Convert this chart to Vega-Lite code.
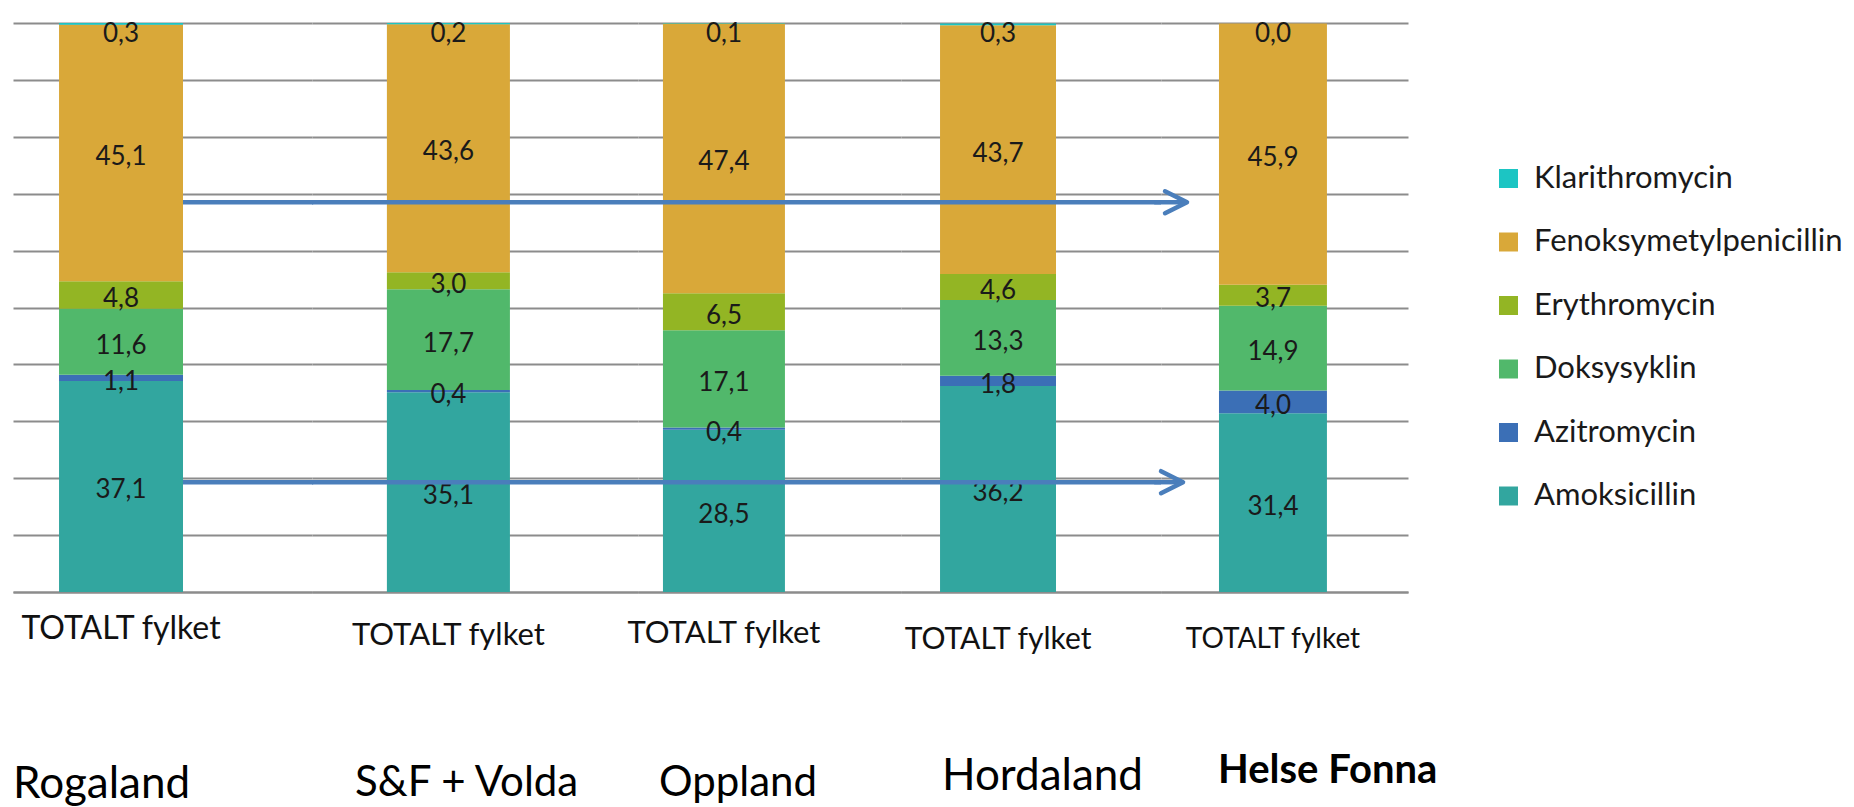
{
  "$schema": "https://vega.github.io/schema/vega-lite/v6.json",
  "padding": {"left": 13, "top": 21, "right": 0, "bottom": 0},
  "background": "#ffffff",
  "bounds": "flush",
  "spacing": 0,
  "config": {
    "locale": {"number": {"decimal": ",", "thousands": " ", "grouping": [3], "currency": ["", " kr"]}},
    "view": {"stroke": null},
    "font": "Lato",
    "axisX": {"ticks": false, "domain": true, "domainColor": "#8c8c8c", "domainWidth": 2, "labelFont": "Lato", "labelColor": "#111111", "labelAngle": 0, "grid": false, "labelLimit": 500},
    "axisY": {"grid": true, "gridColor": "#8c8c8c", "gridWidth": 2, "labels": false, "ticks": false, "domain": false}
  },
  "datasets": {
    "d": [
      {"region": "Rogaland", "group": "TOTALT fylket", "drug": "Amoksicillin", "value": 37.1},
      {"region": "Rogaland", "group": "TOTALT fylket", "drug": "Azitromycin", "value": 1.1},
      {"region": "Rogaland", "group": "TOTALT fylket", "drug": "Doksysyklin", "value": 11.6},
      {"region": "Rogaland", "group": "TOTALT fylket", "drug": "Erythromycin", "value": 4.8},
      {"region": "Rogaland", "group": "TOTALT fylket", "drug": "Fenoksymetylpenicillin", "value": 45.1},
      {"region": "Rogaland", "group": "TOTALT fylket", "drug": "Klarithromycin", "value": 0.3},
      {"region": "S&F + Volda", "group": "TOTALT fylket", "drug": "Amoksicillin", "value": 35.1},
      {"region": "S&F + Volda", "group": "TOTALT fylket", "drug": "Azitromycin", "value": 0.4},
      {"region": "S&F + Volda", "group": "TOTALT fylket", "drug": "Doksysyklin", "value": 17.7},
      {"region": "S&F + Volda", "group": "TOTALT fylket", "drug": "Erythromycin", "value": 3.0},
      {"region": "S&F + Volda", "group": "TOTALT fylket", "drug": "Fenoksymetylpenicillin", "value": 43.6},
      {"region": "S&F + Volda", "group": "TOTALT fylket", "drug": "Klarithromycin", "value": 0.2},
      {"region": "Oppland", "group": "TOTALT fylket", "drug": "Amoksicillin", "value": 28.5},
      {"region": "Oppland", "group": "TOTALT fylket", "drug": "Azitromycin", "value": 0.4},
      {"region": "Oppland", "group": "TOTALT fylket", "drug": "Doksysyklin", "value": 17.1},
      {"region": "Oppland", "group": "TOTALT fylket", "drug": "Erythromycin", "value": 6.5},
      {"region": "Oppland", "group": "TOTALT fylket", "drug": "Fenoksymetylpenicillin", "value": 47.4},
      {"region": "Oppland", "group": "TOTALT fylket", "drug": "Klarithromycin", "value": 0.1},
      {"region": "Hordaland", "group": "TOTALT fylket", "drug": "Amoksicillin", "value": 36.2},
      {"region": "Hordaland", "group": "TOTALT fylket", "drug": "Azitromycin", "value": 1.8},
      {"region": "Hordaland", "group": "TOTALT fylket", "drug": "Doksysyklin", "value": 13.3},
      {"region": "Hordaland", "group": "TOTALT fylket", "drug": "Erythromycin", "value": 4.6},
      {"region": "Hordaland", "group": "TOTALT fylket", "drug": "Fenoksymetylpenicillin", "value": 43.7},
      {"region": "Hordaland", "group": "TOTALT fylket", "drug": "Klarithromycin", "value": 0.3},
      {"region": "Helse Fonna", "group": "TOTALT fylket", "drug": "Amoksicillin", "value": 31.4},
      {"region": "Helse Fonna", "group": "TOTALT fylket", "drug": "Azitromycin", "value": 4.0},
      {"region": "Helse Fonna", "group": "TOTALT fylket", "drug": "Doksysyklin", "value": 14.9},
      {"region": "Helse Fonna", "group": "TOTALT fylket", "drug": "Erythromycin", "value": 3.7},
      {"region": "Helse Fonna", "group": "TOTALT fylket", "drug": "Fenoksymetylpenicillin", "value": 45.9},
      {"region": "Helse Fonna", "group": "TOTALT fylket", "drug": "Klarithromycin", "value": 0.0}
    ]
  },
  "hconcat": [
    {
      "width": 299, "height": 569,
      "data": {"name": "d"},
      "transform": [{"filter": "datum.region === 'Rogaland'"}],
      "title": {"text": "Rogaland", "orient": "bottom", "anchor": "start", "frame": "group", "offset": 119, "fontSize": 44, "fontWeight": "normal", "font": "Lato", "color": "#000000"},
      "layer": [
        {"mark": {"type": "bar"},
         "encoding": {
           "x": {"field": "group", "type": "nominal", "title": null, "scale": {"paddingInner": 0, "paddingOuter": 0.706, "align": 0.263}, "axis": {"labelFontSize": 32, "labelPadding": 21}},
           "y": {"field": "value", "type": "quantitative", "stack": "zero", "title": null, "scale": {"domain": [0, 100]}, "axis": {"values": [0,10,20,30,40,50,60,70,80,90,100]}},
           "color": {"field": "drug", "type": "nominal", "scale": {"domain": ["Klarithromycin","Fenoksymetylpenicillin","Erythromycin","Doksysyklin","Azitromycin","Amoksicillin"], "range": ["#1cc5c3","#d9a839","#93b524","#51b86b","#3b6fb6","#32a69f"]}, "legend": {"orient": "none", "legendX": 1480, "legendY": 140, "title": null, "symbolType": "square", "symbolSize": 361, "symbolStrokeWidth": 0, "symbolOpacity": 1, "labelFont": "Lato", "labelFontSize": 31, "labelColor": "#1a1a1a", "rowPadding": 31.5, "labelOffset": 10, "labelLimit": 500}},
           "order": {"field": "drug", "type": "nominal", "sort": "ascending"}
         }},
        {"transform": [{"filter": "datum.drug !== 'Klarithromycin'"}],
         "mark": {"type": "text", "font": "Lato", "fontSize": 26, "color": "#1a1a1a", "baseline": "middle", "dy": 4},
         "encoding": {
           "x": {"field": "group", "type": "nominal", "title": null},
           "y": {"field": "value", "type": "quantitative", "stack": "zero", "bandPosition": 0.5, "title": null},
           "text": {"field": "value", "type": "quantitative", "format": ".1f"},
           "order": {"field": "drug", "type": "nominal", "sort": "ascending"}
         }},
        {"transform": [{"filter": "datum.drug === 'Klarithromycin'"}],
         "mark": {"type": "text", "font": "Lato", "fontSize": 26, "color": "#1a1a1a", "baseline": "top", "dy": -2},
         "encoding": {
           "x": {"field": "group", "type": "nominal", "title": null},
           "y": {"datum": 100, "type": "quantitative", "title": null},
           "text": {"field": "value", "type": "quantitative", "format": ".1f"}
         }},
        {"data": {"values": [{}]},
         "mark": {"type": "rule", "color": "#4a7ebb", "strokeWidth": 4.5},
         "encoding": {
           "x": {"datum": "TOTALT fylket", "type": "nominal", "bandPosition": 1, "title": null},
           "x2": {"datum": "TOTALT fylket", "bandPosition": 2.05},
           "y": {"datum": 68.5, "type": "quantitative", "title": null}
         }},
        {"data": {"values": [{}]},
         "mark": {"type": "rule", "color": "#4a7ebb", "strokeWidth": 4.5},
         "encoding": {
           "x": {"datum": "TOTALT fylket", "type": "nominal", "bandPosition": 1, "title": null},
           "x2": {"datum": "TOTALT fylket", "bandPosition": 2.05},
           "y": {"datum": 19.3, "type": "quantitative", "title": null}
         }}
      ]
    },
    {
      "width": 326, "height": 569,
      "data": {"name": "d"},
      "transform": [{"filter": "datum.region === 'S&F + Volda'"}],
      "title": {"text": "S&F + Volda", "orient": "bottom", "anchor": "start", "frame": "group", "offset": 113, "dx": 43, "fontSize": 42, "fontWeight": "normal", "font": "Lato", "color": "#000000"},
      "layer": [
        {"mark": {"type": "bar"},
         "encoding": {
           "x": {"field": "group", "type": "nominal", "title": null, "scale": {"paddingInner": 0, "paddingOuter": 0.825, "align": 0.369}, "axis": {"labelFontSize": 31, "labelPadding": 28}},
           "y": {"field": "value", "type": "quantitative", "stack": "zero", "title": null, "scale": {"domain": [0, 100]}, "axis": {"values": [0,10,20,30,40,50,60,70,80,90,100]}},
           "color": {"field": "drug", "type": "nominal", "scale": {"domain": ["Klarithromycin","Fenoksymetylpenicillin","Erythromycin","Doksysyklin","Azitromycin","Amoksicillin"], "range": ["#1cc5c3","#d9a839","#93b524","#51b86b","#3b6fb6","#32a69f"]}, "legend": {"orient": "none", "legendX": 1480, "legendY": 140, "title": null, "symbolType": "square", "symbolSize": 361, "symbolStrokeWidth": 0, "symbolOpacity": 1, "labelFont": "Lato", "labelFontSize": 31, "labelColor": "#1a1a1a", "rowPadding": 31.5, "labelOffset": 10, "labelLimit": 500}},
           "order": {"field": "drug", "type": "nominal", "sort": "ascending"}
         }},
        {"transform": [{"filter": "datum.drug !== 'Klarithromycin'"}],
         "mark": {"type": "text", "font": "Lato", "fontSize": 26, "color": "#1a1a1a", "baseline": "middle", "dy": 4},
         "encoding": {
           "x": {"field": "group", "type": "nominal", "title": null},
           "y": {"field": "value", "type": "quantitative", "stack": "zero", "bandPosition": 0.5, "title": null},
           "text": {"field": "value", "type": "quantitative", "format": ".1f"},
           "order": {"field": "drug", "type": "nominal", "sort": "ascending"}
         }},
        {"transform": [{"filter": "datum.drug === 'Klarithromycin'"}],
         "mark": {"type": "text", "font": "Lato", "fontSize": 26, "color": "#1a1a1a", "baseline": "top", "dy": -2},
         "encoding": {
           "x": {"field": "group", "type": "nominal", "title": null},
           "y": {"datum": 100, "type": "quantitative", "title": null},
           "text": {"field": "value", "type": "quantitative", "format": ".1f"}
         }},
        {"data": {"values": [{}]},
         "mark": {"type": "rule", "color": "#4a7ebb", "strokeWidth": 4.5},
         "encoding": {"y": {"datum": 68.5, "type": "quantitative", "title": null}}},
        {"data": {"values": [{}]},
         "mark": {"type": "rule", "color": "#4a7ebb", "strokeWidth": 4.5},
         "encoding": {"y": {"datum": 19.3, "type": "quantitative", "title": null}}}
      ]
    },
    {
      "width": 263, "height": 569,
      "data": {"name": "d"},
      "transform": [{"filter": "datum.region === 'Oppland'"}],
      "title": {"text": "Oppland", "orient": "bottom", "anchor": "start", "frame": "group", "offset": 115, "dx": 21, "fontSize": 42, "fontWeight": "normal", "font": "Lato", "color": "#000000"},
      "layer": [
        {"mark": {"type": "bar"},
         "encoding": {
           "x": {"field": "group", "type": "nominal", "title": null, "scale": {"paddingInner": 0, "paddingOuter": 0.578, "align": 0.177}, "axis": {"labelFontSize": 31, "labelPadding": 26}},
           "y": {"field": "value", "type": "quantitative", "stack": "zero", "title": null, "scale": {"domain": [0, 100]}, "axis": {"values": [0,10,20,30,40,50,60,70,80,90,100]}},
           "color": {"field": "drug", "type": "nominal", "scale": {"domain": ["Klarithromycin","Fenoksymetylpenicillin","Erythromycin","Doksysyklin","Azitromycin","Amoksicillin"], "range": ["#1cc5c3","#d9a839","#93b524","#51b86b","#3b6fb6","#32a69f"]}, "legend": {"orient": "none", "legendX": 1480, "legendY": 140, "title": null, "symbolType": "square", "symbolSize": 361, "symbolStrokeWidth": 0, "symbolOpacity": 1, "labelFont": "Lato", "labelFontSize": 31, "labelColor": "#1a1a1a", "rowPadding": 31.5, "labelOffset": 10, "labelLimit": 500}},
           "order": {"field": "drug", "type": "nominal", "sort": "ascending"}
         }},
        {"transform": [{"filter": "datum.drug !== 'Klarithromycin'"}],
         "mark": {"type": "text", "font": "Lato", "fontSize": 26, "color": "#1a1a1a", "baseline": "middle", "dy": 4},
         "encoding": {
           "x": {"field": "group", "type": "nominal", "title": null},
           "y": {"field": "value", "type": "quantitative", "stack": "zero", "bandPosition": 0.5, "title": null},
           "text": {"field": "value", "type": "quantitative", "format": ".1f"},
           "order": {"field": "drug", "type": "nominal", "sort": "ascending"}
         }},
        {"transform": [{"filter": "datum.drug === 'Klarithromycin'"}],
         "mark": {"type": "text", "font": "Lato", "fontSize": 26, "color": "#1a1a1a", "baseline": "top", "dy": -2},
         "encoding": {
           "x": {"field": "group", "type": "nominal", "title": null},
           "y": {"datum": 100, "type": "quantitative", "title": null},
           "text": {"field": "value", "type": "quantitative", "format": ".1f"}
         }},
        {"data": {"values": [{}]},
         "mark": {"type": "rule", "color": "#4a7ebb", "strokeWidth": 4.5},
         "encoding": {"y": {"datum": 68.5, "type": "quantitative", "title": null}}},
        {"data": {"values": [{}]},
         "mark": {"type": "rule", "color": "#4a7ebb", "strokeWidth": 4.5},
         "encoding": {"y": {"datum": 19.3, "type": "quantitative", "title": null}}}
      ]
    },
    {
      "width": 260, "height": 569,
      "data": {"name": "d"},
      "transform": [{"filter": "datum.region === 'Hordaland'"}],
      "title": {"text": "Hordaland", "orient": "bottom", "anchor": "start", "frame": "group", "offset": 101, "dx": 41, "fontSize": 44, "fontWeight": "normal", "font": "Lato", "color": "#000000"},
      "layer": [
        {"mark": {"type": "bar"},
         "encoding": {
           "x": {"field": "group", "type": "nominal", "title": null, "scale": {"paddingInner": 0, "paddingOuter": 0.621, "align": 0.271}, "axis": {"labelFontSize": 30, "labelPadding": 32}},
           "y": {"field": "value", "type": "quantitative", "stack": "zero", "title": null, "scale": {"domain": [0, 100]}, "axis": {"values": [0,10,20,30,40,50,60,70,80,90,100]}},
           "color": {"field": "drug", "type": "nominal", "scale": {"domain": ["Klarithromycin","Fenoksymetylpenicillin","Erythromycin","Doksysyklin","Azitromycin","Amoksicillin"], "range": ["#1cc5c3","#d9a839","#93b524","#51b86b","#3b6fb6","#32a69f"]}, "legend": {"orient": "none", "legendX": 1480, "legendY": 140, "title": null, "symbolType": "square", "symbolSize": 361, "symbolStrokeWidth": 0, "symbolOpacity": 1, "labelFont": "Lato", "labelFontSize": 31, "labelColor": "#1a1a1a", "rowPadding": 31.5, "labelOffset": 10, "labelLimit": 500}},
           "order": {"field": "drug", "type": "nominal", "sort": "ascending"}
         }},
        {"transform": [{"filter": "datum.drug !== 'Klarithromycin'"}],
         "mark": {"type": "text", "font": "Lato", "fontSize": 26, "color": "#1a1a1a", "baseline": "middle", "dy": 4},
         "encoding": {
           "x": {"field": "group", "type": "nominal", "title": null},
           "y": {"field": "value", "type": "quantitative", "stack": "zero", "bandPosition": 0.5, "title": null},
           "text": {"field": "value", "type": "quantitative", "format": ".1f"},
           "order": {"field": "drug", "type": "nominal", "sort": "ascending"}
         }},
        {"transform": [{"filter": "datum.drug === 'Klarithromycin'"}],
         "mark": {"type": "text", "font": "Lato", "fontSize": 26, "color": "#1a1a1a", "baseline": "top", "dy": -2},
         "encoding": {
           "x": {"field": "group", "type": "nominal", "title": null},
           "y": {"datum": 100, "type": "quantitative", "title": null},
           "text": {"field": "value", "type": "quantitative", "format": ".1f"}
         }},
        {"data": {"values": [{}]},
         "mark": {"type": "rule", "color": "#4a7ebb", "strokeWidth": 4.5},
         "encoding": {"y": {"datum": 68.5, "type": "quantitative", "title": null}}},
        {"data": {"values": [{}]},
         "mark": {"type": "rule", "color": "#4a7ebb", "strokeWidth": 4.5},
         "encoding": {"y": {"datum": 19.3, "type": "quantitative", "title": null}}}
      ]
    },
    {
      "width": 247, "height": 569,
      "data": {"name": "d"},
      "transform": [{"filter": "datum.region === 'Helse Fonna'"}],
      "title": {"text": "Helse Fonna", "orient": "bottom", "anchor": "start", "frame": "group", "offset": 98, "dx": 57, "fontSize": 40, "fontWeight": "bold", "font": "Lato", "color": "#000000"},
      "layer": [
        {"mark": {"type": "bar"},
         "encoding": {
           "x": {"field": "group", "type": "nominal", "title": null, "scale": {"paddingInner": 0, "paddingOuter": 0.644, "align": 0.417}, "axis": {"labelFontSize": 28, "labelPadding": 33}},
           "y": {"field": "value", "type": "quantitative", "stack": "zero", "title": null, "scale": {"domain": [0, 100]}, "axis": {"values": [0,10,20,30,40,50,60,70,80,90,100]}},
           "color": {"field": "drug", "type": "nominal", "scale": {"domain": ["Klarithromycin","Fenoksymetylpenicillin","Erythromycin","Doksysyklin","Azitromycin","Amoksicillin"], "range": ["#1cc5c3","#d9a839","#93b524","#51b86b","#3b6fb6","#32a69f"]}, "legend": {"orient": "none", "legendX": 1480, "legendY": 140, "title": null, "symbolType": "square", "symbolSize": 361, "symbolStrokeWidth": 0, "symbolOpacity": 1, "labelFont": "Lato", "labelFontSize": 31, "labelColor": "#1a1a1a", "rowPadding": 31.5, "labelOffset": 10, "labelLimit": 500}},
           "order": {"field": "drug", "type": "nominal", "sort": "ascending"}
         }},
        {"transform": [{"filter": "datum.drug !== 'Klarithromycin'"}],
         "mark": {"type": "text", "font": "Lato", "fontSize": 26, "color": "#1a1a1a", "baseline": "middle", "dy": 4},
         "encoding": {
           "x": {"field": "group", "type": "nominal", "title": null},
           "y": {"field": "value", "type": "quantitative", "stack": "zero", "bandPosition": 0.5, "title": null},
           "text": {"field": "value", "type": "quantitative", "format": ".1f"},
           "order": {"field": "drug", "type": "nominal", "sort": "ascending"}
         }},
        {"transform": [{"filter": "datum.drug === 'Klarithromycin'"}],
         "mark": {"type": "text", "font": "Lato", "fontSize": 26, "color": "#1a1a1a", "baseline": "top", "dy": -2},
         "encoding": {
           "x": {"field": "group", "type": "nominal", "title": null},
           "y": {"datum": 100, "type": "quantitative", "title": null},
           "text": {"field": "value", "type": "quantitative", "format": ".1f"}
         }},
        {"data": {"values": [{}]},
         "mark": {"type": "rule", "color": "#4a7ebb", "strokeWidth": 4.5},
         "encoding": {
           "x": {"datum": "TOTALT fylket", "type": "nominal", "bandPosition": -0.6, "title": null},
           "x2": {"datum": "TOTALT fylket", "bandPosition": -0.33},
           "y": {"datum": 68.5, "type": "quantitative", "title": null}
         }},
        {"data": {"values": [{}]},
         "mark": {"type": "point", "shape": "M-2,-1L0,0L-2,1", "filled": false, "stroke": "#4a7ebb", "strokeWidth": 4.5, "size": 484, "opacity": 1, "strokeJoin": "round", "strokeCap": "round"},
         "encoding": {
           "x": {"datum": "TOTALT fylket", "type": "nominal", "bandPosition": -0.296, "title": null},
           "y": {"datum": 68.5, "type": "quantitative", "title": null}
         }},
        {"data": {"values": [{}]},
         "mark": {"type": "rule", "color": "#4a7ebb", "strokeWidth": 4.5},
         "encoding": {
           "x": {"datum": "TOTALT fylket", "type": "nominal", "bandPosition": -0.6, "title": null},
           "x2": {"datum": "TOTALT fylket", "bandPosition": -0.36},
           "y": {"datum": 19.3, "type": "quantitative", "title": null}
         }},
        {"data": {"values": [{}]},
         "mark": {"type": "point", "shape": "M-2,-1L0,0L-2,1", "filled": false, "stroke": "#4a7ebb", "strokeWidth": 4.5, "size": 484, "opacity": 1, "strokeJoin": "round", "strokeCap": "round"},
         "encoding": {
           "x": {"datum": "TOTALT fylket", "type": "nominal", "bandPosition": -0.333, "title": null},
           "y": {"datum": 19.3, "type": "quantitative", "title": null}
         }}
      ]
    }
  ]
}
